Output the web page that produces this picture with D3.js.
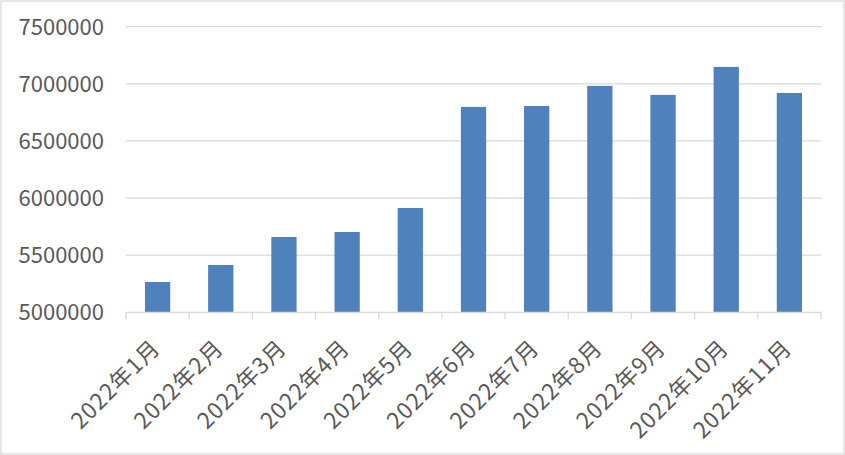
<!DOCTYPE html>
<html>
<head>
<meta charset="utf-8">
<script src="https://cdn.jsdelivr.net/npm/d3@7"></script>
<style>
html,body{margin:0;padding:0;background:#fff;}
svg{display:block;}
text{font-family:"Noto Sans CJK SC","Noto Sans",sans-serif;fill:#595959;}
</style>
</head>
<body>
<svg id="chart" width="845" height="455"></svg>
<script>
const categories = ["2022年1月","2022年2月","2022年3月","2022年4月","2022年5月","2022年6月","2022年7月","2022年8月","2022年9月","2022年10月","2022年11月"];
const values = [5265000,5414000,5659000,5703000,5913000,6798000,6806000,6982000,6903000,7148000,6920000];
const yTicks = [5000000,5500000,6000000,6500000,7000000,7500000];

const W = 845, H = 455;
const m = {left:126, right:24, top:26.7, bottom:142.7};
const svg = d3.select("#chart");

svg.append("rect").attr("x",1).attr("y",1).attr("width",W-2).attr("height",H-2)
  .attr("fill","#fff").attr("stroke","#d9d9d9").attr("stroke-width",1.3);

const x = d3.scaleBand().domain(categories).range([m.left, W-m.right]).paddingInner(0.6).paddingOuter(0.3);
const y = d3.scaleLinear().domain([5000000,7500000]).range([H-m.bottom, m.top]);

// gridlines
svg.append("g").selectAll("line").data(yTicks.slice(1)).join("line")
  .attr("x1",m.left).attr("x2",W-m.right)
  .attr("y1",d=>y(d)).attr("y2",d=>y(d))
  .attr("stroke","#d9d9d9").attr("stroke-width",1.3);

// y labels
svg.append("g").selectAll("text").data(yTicks).join("text")
  .attr("x",104).attr("y",d=>y(d)+8)
  .attr("text-anchor","end").attr("font-size","22px")
  .text(d=>d);

// bars
svg.append("g").selectAll("rect").data(values).join("rect")
  .attr("x",(d,i)=>x(categories[i])).attr("width",x.bandwidth())
  .attr("y",d=>y(d)).attr("height",d=>y(5000000)-y(d))
  .attr("fill","#4f81bd");

// x axis
const step = x.step();
const y0 = y(5000000);
svg.append("line").attr("x1",m.left).attr("x2",W-m.right).attr("y1",y0).attr("y2",y0)
  .attr("stroke","#d9d9d9").attr("stroke-width",1.3);
const bounds = d3.range(categories.length+1).map(i=>m.left + i*step);
svg.append("g").selectAll("line").data(bounds).join("line")
  .attr("x1",d=>d).attr("x2",d=>d).attr("y1",y0).attr("y2",y0+7)
  .attr("stroke","#d9d9d9").attr("stroke-width",1.3);

// x labels
svg.append("g").selectAll("text").data(categories).join("text")
  .attr("transform",d=>`translate(${x(d)+x.bandwidth()/2+4},${y0+37}) rotate(-45)`)
  .attr("text-anchor","end").attr("font-size","22.5px").attr("letter-spacing","1px")
  .text(d=>d);
</script>
</body>
</html>
